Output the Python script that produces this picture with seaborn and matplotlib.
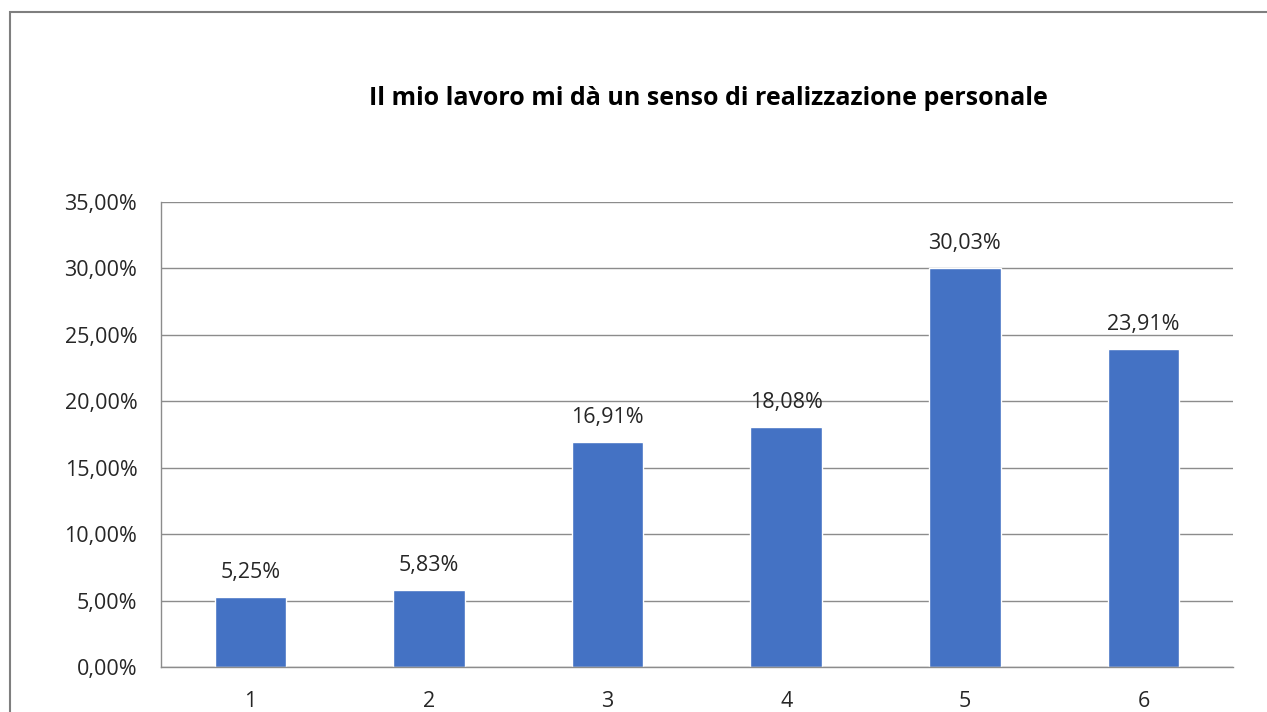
import matplotlib
matplotlib.use("Agg")
import numpy as np
import pandas as pd
import seaborn as sns
import matplotlib.pyplot as plt
from matplotlib.patches import Rectangle
from matplotlib.ticker import FuncFormatter

categories = ["1", "2", "3", "4", "5", "6"]
values = [5.25, 5.83, 16.91, 18.08, 30.03, 23.91]
title = "Il mio lavoro mi dà un senso di realizzazione personale"

sns.set_theme(style="white")
plt.rcParams["font.family"] = ["Open Sans", "DejaVu Sans"]

df = pd.DataFrame({"cat": categories, "val": values})

fig = plt.figure(figsize=(12.67, 7.12), dpi=100)
ax = fig.add_axes([0.127, 0.0632, 0.846, 0.6531])

sns.barplot(data=df, x="cat", y="val", color="#4472C4", width=0.4,
            saturation=1, ax=ax)

ax.set_ylim(0, 35)
ax.set_yticks(np.arange(0, 36, 5))
ax.yaxis.set_major_formatter(FuncFormatter(lambda v, p: f"{v:.2f}%".replace(".", ",")))
ax.grid(axis="y", color="#8c8c8c", linewidth=1)
ax.set_axisbelow(True)
ax.set_xlabel("")
ax.set_ylabel("")
for s in ["top", "right"]:
    ax.spines[s].set_visible(False)
for s in ["left", "bottom"]:
    ax.spines[s].set_color("#8c8c8c")
    ax.spines[s].set_linewidth(1)
ax.tick_params(axis="both", length=0, labelsize=15.5, colors="#262626")
ax.tick_params(axis="x", pad=17)
ax.tick_params(axis="y", pad=17)

for i, v in enumerate(values):
    ax.annotate(f"{v:.2f}%".replace(".", ","), (i, v), xytext=(0, 10),
                textcoords="offset points", ha="center", va="bottom",
                fontsize=15.5, color="#262626")

fig.text(0.559, 0.862, title, ha="center", va="center", fontsize=18,
         fontweight="bold", color="#000000")

fig.patches.append(Rectangle((10 / 1267, -0.1), 1.2, 1.1 - 12 / 712,
                             transform=fig.transFigure, fill=False,
                             edgecolor="#7f7f7f", linewidth=1.5))

fig.savefig("out.png", dpi=100)
